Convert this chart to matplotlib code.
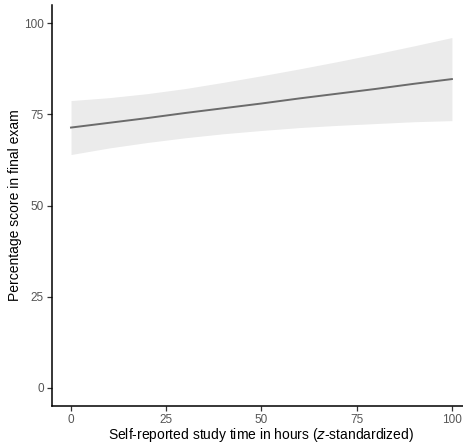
import matplotlib
matplotlib.use('Agg')
import matplotlib.pyplot as plt

plt.rcParams['font.family'] = ['Liberation Sans', 'DejaVu Sans']

# study time (x) and fitted line with confidence band
study_time = [0, 10, 20, 30, 40, 50, 60, 70, 80, 90, 100]
fit = [71.4, 72.7, 74.0, 75.4, 76.7, 78.0, 79.4, 80.7, 82.0, 83.4, 84.7]
upper = [78.8, 79.6, 80.7, 82.1, 83.8, 85.6, 87.5, 89.5, 91.6, 93.8, 96.1]
lower = [64.0, 65.8, 67.3, 68.6, 69.7, 70.6, 71.4, 72.0, 72.5, 73.0, 73.3]

x_ticks = [0, 25, 50, 75, 100]
y_ticks = [0, 25, 50, 75, 100]

fig = plt.figure(figsize=(4.64, 4.43), dpi=100)
ax = fig.add_axes([0.112, 0.0835, 0.903, 0.905])

ax.fill_between(study_time, lower, upper, color='#ebebeb', linewidth=0)
ax.plot(study_time, fit, color='#6b6b6b', linewidth=1.4)

ax.set_xlim(-5, 105)
ax.set_ylim(-5, 105)
ax.set_xticks(x_ticks)
ax.set_yticks(y_ticks)
ax.tick_params(colors='#333333', labelcolor='#555555', labelsize=8.5,
               length=3.5, width=0.9, pad=2.5)

for side in ['top', 'right']:
    ax.spines[side].set_visible(False)
for side in ['left', 'bottom']:
    ax.spines[side].set_linewidth(1.1)
    ax.spines[side].set_color('black')

ax.set_xlabel('Self-reported study time in hours ($\\it{z}$-standardized)', fontsize=10, labelpad=0)
ax.set_ylabel('Percentage score in final exam', fontsize=10, labelpad=1.5)

fig.savefig('out.png', dpi=100)
